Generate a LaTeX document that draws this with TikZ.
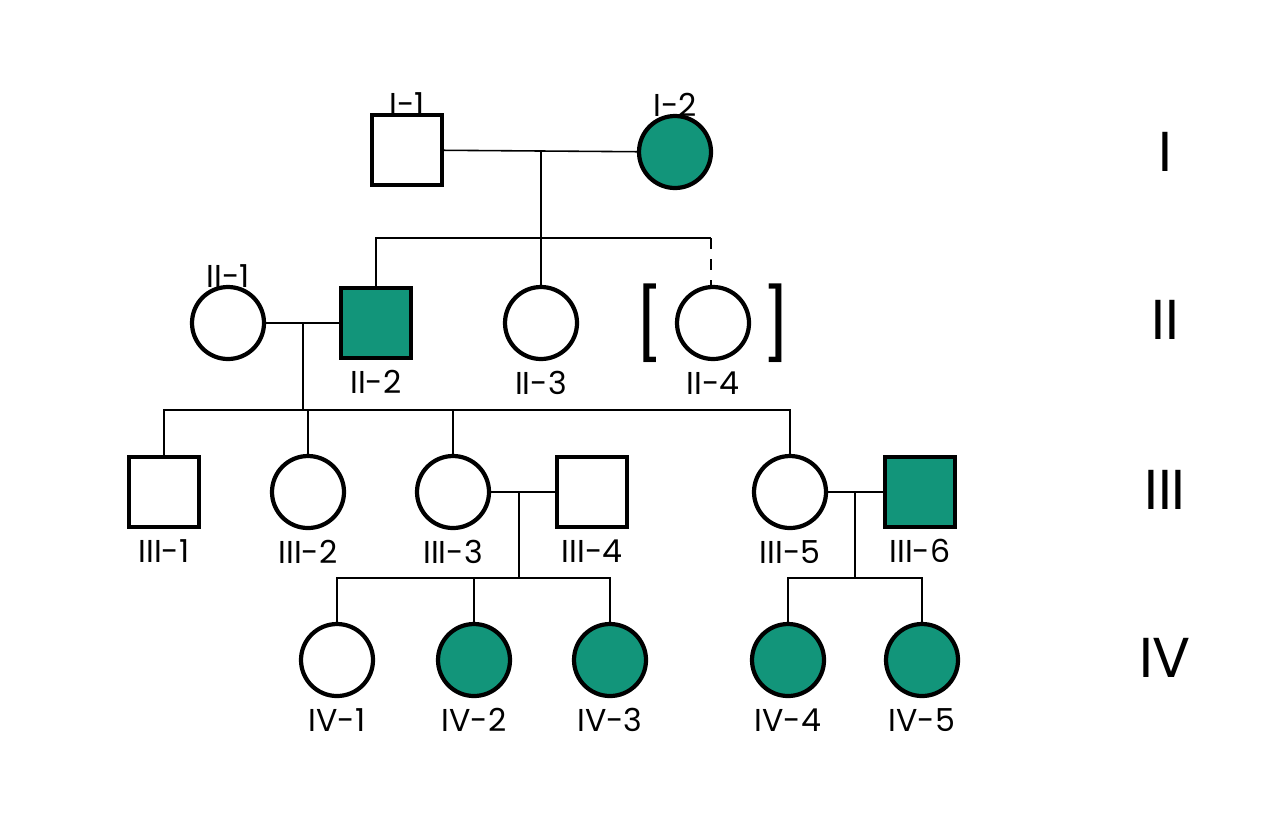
\documentclass[tikz,border=0pt]{standalone}
\usepackage{fontspec}
\setmainfont{Poppins}
\usetikzlibrary{positioning}
\definecolor{affected}{HTML}{12957A}
\begin{document}
\begin{tikzpicture}[x=1cm,y=-1cm,
	male/.style={draw, line width=1.2pt, minimum size=0.7cm, inner sep=0pt},
	female/.style={draw, circle, line width=1.2pt, minimum size=0.72cm, inner sep=0pt},
	aff/.style={fill=affected},
	lab/.style={font=\fontsize{9}{10}\selectfont},
	gen/.style={font=\fontsize{16}{18}\selectfont},
	link/.style={line width=0.45pt}]

	\useasboundingbox (0,0) rectangle (12.8,8.28);

	% Individuals

	\node [male] (i1) at (4.07,1.50) {};
	\node [female, aff] (i2) at (6.75,1.52) {};

	\node [female] (ii1) at (2.28,3.23) {};
	\node [male, aff] (ii2) at (3.76,3.23) {};
	\node [female] (ii3) at (5.41,3.23) {};
	\node [female] (ii4) at (7.13,3.23) {};

	\node [male] (iii1) at (1.64,4.92) {};
	\node [female] (iii2) at (3.08,4.92) {};
	\node [female] (iii3) at (4.53,4.92) {};
	\node [male] (iii4) at (5.92,4.92) {};
	\node [female] (iii5) at (7.90,4.92) {};
	\node [male, aff] (iii6) at (9.20,4.92) {};

	\node [female] (iv1) at (3.37,6.60) {};
	\node [female, aff] (iv2) at (4.74,6.60) {};
	\node [female, aff] (iv3) at (6.10,6.60) {};
	\node [female, aff] (iv4) at (7.88,6.60) {};
	\node [female, aff] (iv5) at (9.22,6.60) {};

	% Labels

	\node [lab, above=0.15 of i1] {I-1};
	\node [lab, above=0.15 of i2] {I-2};
	\node [lab, above=0.15 of ii1] {II-1};
	\node [lab, below=0.02 of ii2] {II-2};
	\node [lab, below=0.02 of ii3] {II-3};
	\node [lab, below=0.02 of ii4] {II-4};
	\foreach \n/\t in {iii1/III-1, iii2/III-2, iii3/III-3, iii4/III-4, iii5/III-5, iii6/III-6,
		iv1/IV-1, iv2/IV-2, iv3/IV-3, iv4/IV-4, iv5/IV-5}
		\node [lab, below=0.02 of \n] {\t};

	\node [gen] at (11.65,1.52) {I};
	\node [gen] at (11.65,3.20) {II};
	\node [gen] at (11.65,4.90) {III};
	\node [gen] at (11.65,6.58) {IV};

	% Brackets

	\node [font=\fontsize{20}{20}\selectfont, left=-0.02 of ii4] {[};
	\node [font=\fontsize{20}{20}\selectfont, right=-0.02 of ii4] {]};

	% Lines

	\begin{scope}[link]

		\draw (i1) -- (i2);
		\coordinate (m1) at (5.41,1.52);
		\draw (m1) -- (5.41,2.38);
		\draw (ii2.north) |- (5.41,2.38) -- (7.11,2.38);
		\draw (ii3) -- (5.41,2.38);
		\draw [dashed] (7.11,2.38) -- (7.11,2.85);

		\draw (ii1) -- (ii2);
		\coordinate (m2) at (3.03,3.23);
		\draw (m2) -- (3.03,4.10);
		\draw (iii1.north) |- (7.90,4.10) -- (iii5);
		\draw (iii2) -- (3.08,4.10);
		\draw (iii3) -- (4.53,4.10);

		\draw (iii3) -- (iii4);
		\draw (5.19,4.92) -- (5.19,5.78);
		\draw (iv1) |- (6.10,5.78) -- (iv3);
		\draw (iv2) -- (4.74,5.78);

		\draw (iii5) -- (iii6);
		\draw (8.55,4.92) -- (8.55,5.78);
		\draw (iv4) |- (9.22,5.78) -- (iv5);

	\end{scope}

\end{tikzpicture}
\end{document}
